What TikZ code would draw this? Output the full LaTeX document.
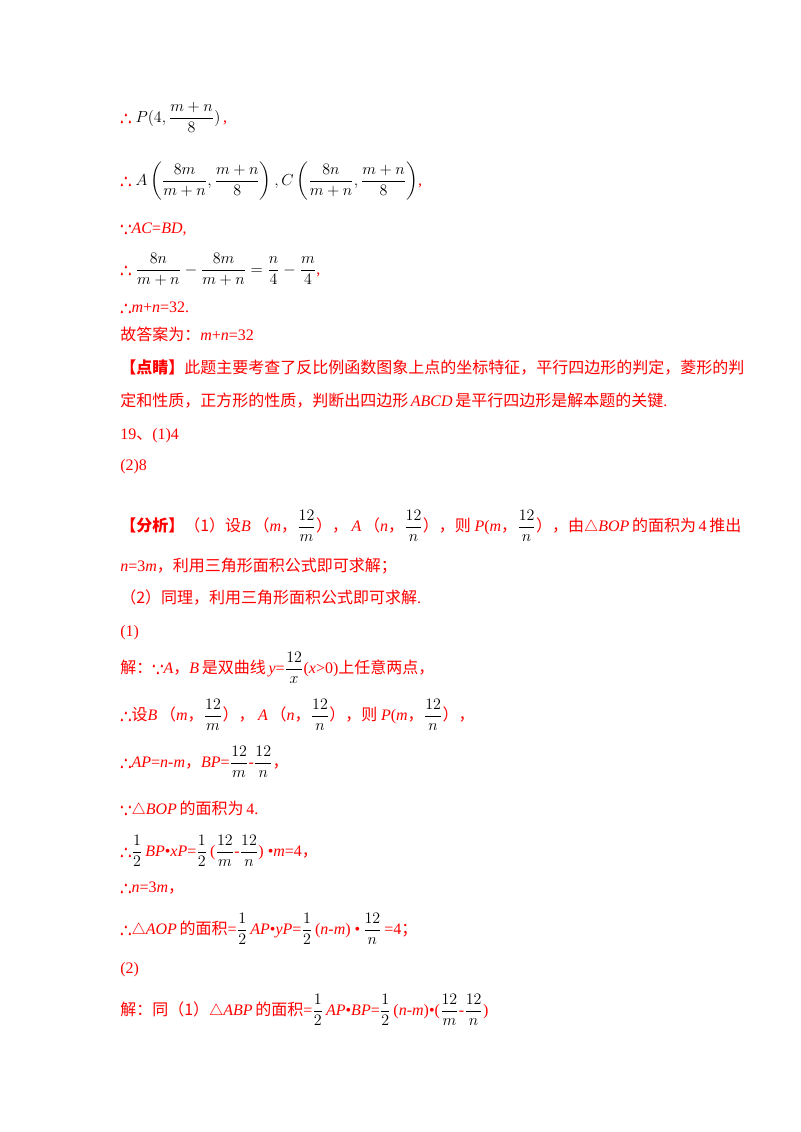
\documentclass[tikz,border=0pt]{standalone}
\usepackage{amsmath,amssymb,bm}
\usepackage{fontspec}
\setmainfont{Liberation Serif}
\newfontfamily\cjk{Noto Sans CJK SC}
\newcommand{\zh}[1]{{\cjk #1}}
\newcommand{\blk}[1]{{\color{black}#1}}
\newcommand{\thf}{{\color{red}$\bm{\therefore}$}}
\newcommand{\bcs}{{\color{red}$\bm{\because}$}}
\begin{document}
\begin{tikzpicture}[x=0.75pt,y=-0.75pt]
\tikzset{ln/.style={anchor=base west,inner sep=0pt,text=red,font=\fontsize{12}{14}\selectfont}}
\useasboundingbox[fill=white] (0,0) rectangle (800,1132);
\node[ln] (l1) at (120,122) {\thf\ \blk{$P(4,\dfrac{m+n}{8})$}\,,};
\node[ln] (l2) at (120,185) {\thf\ \blk{$A\left(\dfrac{8m}{m+n},\dfrac{m+n}{8}\right),C\left(\dfrac{8n}{m+n},\dfrac{m+n}{8}\right)$},};
\node[ln] (l3) at (120,233) {\bcs\textit{AC}=\textit{BD},};
\node[ln] (l4) at (120,274) {\thf\ \blk{$\dfrac{8n}{m+n}-\dfrac{8m}{m+n}=\dfrac{n}{4}-\dfrac{m}{4}$},};
\node[ln] (l5) at (120,312) {\thf\textit{m}+\textit{n}=32.};
\node[ln] (l6) at (120,340) {\zh{故答案为：}\textit{m}+\textit{n}=32};
\node[ln] (l7) at (120,373) {\zh{\textbf{【点睛】}此题主要考查了反比例函数图象上点的坐标特征，平行四边形的判定，菱形的判}};
\node[ln] (l8) at (120,406) {\zh{定和性质，正方形的性质，判断出四边形}\,\textit{ABCD}\,\zh{是平行四边形是解本题的关键}.};
\node[ln] (l9) at (120,439) {19\zh{、}(1)4};
\node[ln] (l10) at (120,470) {(2)8};
\node[ln] (l11) at (120,531) {\zh{\textbf{【分析】}（1）设}\textit{B}\,\zh{（}\textit{m}\zh{，}\blk{$\dfrac{12}{m}$}\zh{），\ }\textit{A}\,\zh{（}\textit{n}\zh{，}\blk{$\dfrac{12}{n}$}\zh{），则 }\textit{P}(\textit{m}\zh{，}\blk{$\dfrac{12}{n}$}\zh{），由}$\triangle$\textit{BOP}\,\zh{的面积为}\,4\,\zh{推出}};
\node[ln] (l12) at (120,571) {\textit{n}=3\textit{m}\zh{，利用三角形面积公式即可求解；}};
\node[ln] (l13) at (120,603) {\zh{（2）同理，利用三角形面积公式即可求解}.};
\node[ln] (l14) at (120,636) {(1)};
\node[ln] (l15) at (120,673) {\zh{解：}\bcs\textit{A}\zh{，}\textit{B}\,\zh{是双曲线}\,\textit{y}=\blk{$\dfrac{12}{x}$}(\textit{x}>0)\zh{上任意两点，}};
\node[ln] (l16) at (120,720) {\thf\zh{设}\textit{B}\,\zh{（}\textit{m}\zh{，}\blk{$\dfrac{12}{m}$}\zh{），\ }\textit{A}\,\zh{（}\textit{n}\zh{，}\blk{$\dfrac{12}{n}$}\zh{），则 }\textit{P}(\textit{m}\zh{，}\blk{$\dfrac{12}{n}$}\zh{），}};
\node[ln] (l17) at (120,767) {\thf\textit{AP}=\textit{n}-\textit{m}\zh{，}\textit{BP}=\blk{$\dfrac{12}{m}$}-\blk{$\dfrac{12}{n}$}\zh{，}};
\node[ln] (l18) at (120,814) {\bcs$\triangle$\textit{BOP}\,\zh{的面积为}\,4.};
\node[ln] (l19) at (120,856) {\thf\blk{$\dfrac12$}\,\textit{BP}\textbullet\textit{xP}=\blk{$\dfrac12$}\,(\blk{$\dfrac{12}{m}$}-\blk{$\dfrac{12}{n}$}) \textbullet\textit{m}=4\zh{，}};
\node[ln] (l20) at (120,892) {\thf\textit{n}=3\textit{m}\zh{，}};
\node[ln] (l21) at (120,934) {\thf$\triangle$\textit{AOP}\,\zh{的面积}=\blk{$\dfrac12$}\,\textit{AP}\textbullet\textit{yP}=\blk{$\dfrac12$}\,(\textit{n}-\textit{m}) \textbullet\,\blk{$\dfrac{12}{n}$}\,=4\zh{；}};
\node[ln] (l22) at (120,973) {(2)};
\node[ln] (l23) at (120,1015) {\zh{解：同（1）}$\triangle$\textit{ABP}\,\zh{的面积}=\blk{$\dfrac12$}\,\textit{AP}\textbullet\textit{BP}=\blk{$\dfrac12$}\,(\textit{n}-\textit{m})\textbullet(\blk{$\dfrac{12}{m}$}-\blk{$\dfrac{12}{n}$})};
\end{tikzpicture}
\end{document}
